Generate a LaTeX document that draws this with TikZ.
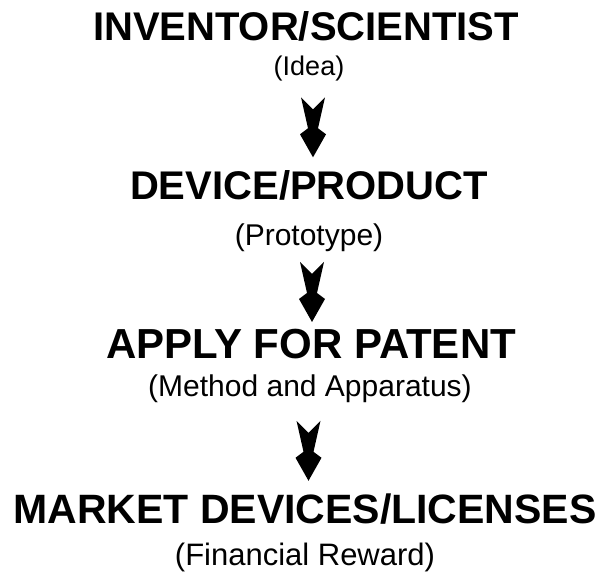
\documentclass[tikz,border=0pt]{standalone}
\usepackage{fontspec}
\setmainfont{Liberation Sans}
\usetikzlibrary{calc}

\begin{document}
\begin{tikzpicture}[
    x=1pt, y=-1pt,
    stage/.style={font=\fontsize{40}{44}\selectfont\bfseries, inner sep=0pt, anchor=base},
    note/.style={font=\fontsize{30}{34}\selectfont, inner sep=0pt, anchor=base},
    chevron/.pic={\fill (-12,-30) -- (0,-18) -- (12,-30) -- (5,1) -- (13,7) -- (0,30) -- (-13,7) -- (-5,1) -- cycle;}
]
\useasboundingbox (0,0) rectangle (607,576);

% Stages
\node[stage] (inventor) at (306,40) {INVENTOR/SCIENTIST};
\node[note, font=\fontsize{27}{30}\selectfont] (idea) at (309,75) {(Idea)};

\node[stage] (device) at (309,199) {DEVICE/PRODUCT};
\node[note] (prototype) at (309,245) {(Prototype)};

\node[stage, font=\fontsize{42}{46}\selectfont\bfseries] (patent) at (311,358) {APPLY FOR PATENT};
\node[note] (method) at (310,396) {(Method and Apparatus)};

\node[stage, font=\fontsize{41}{45}\selectfont\bfseries] (market) at (305,523) {MARKET DEVICES/LICENSES};
\node[note, font=\fontsize{31}{34}\selectfont] (reward) at (305,565) {(Financial Reward)};

% Arrows between stages
\pic at ($(idea.south)!0.5!(device.north)+(4,2)$) {chevron};
\pic at ($(prototype.south)!0.5!(patent.north)+(2,2)$) {chevron};
\pic at ($(method.south)!0.5!(market.north)+(1,3)$) {chevron};
\end{tikzpicture}
\end{document}
